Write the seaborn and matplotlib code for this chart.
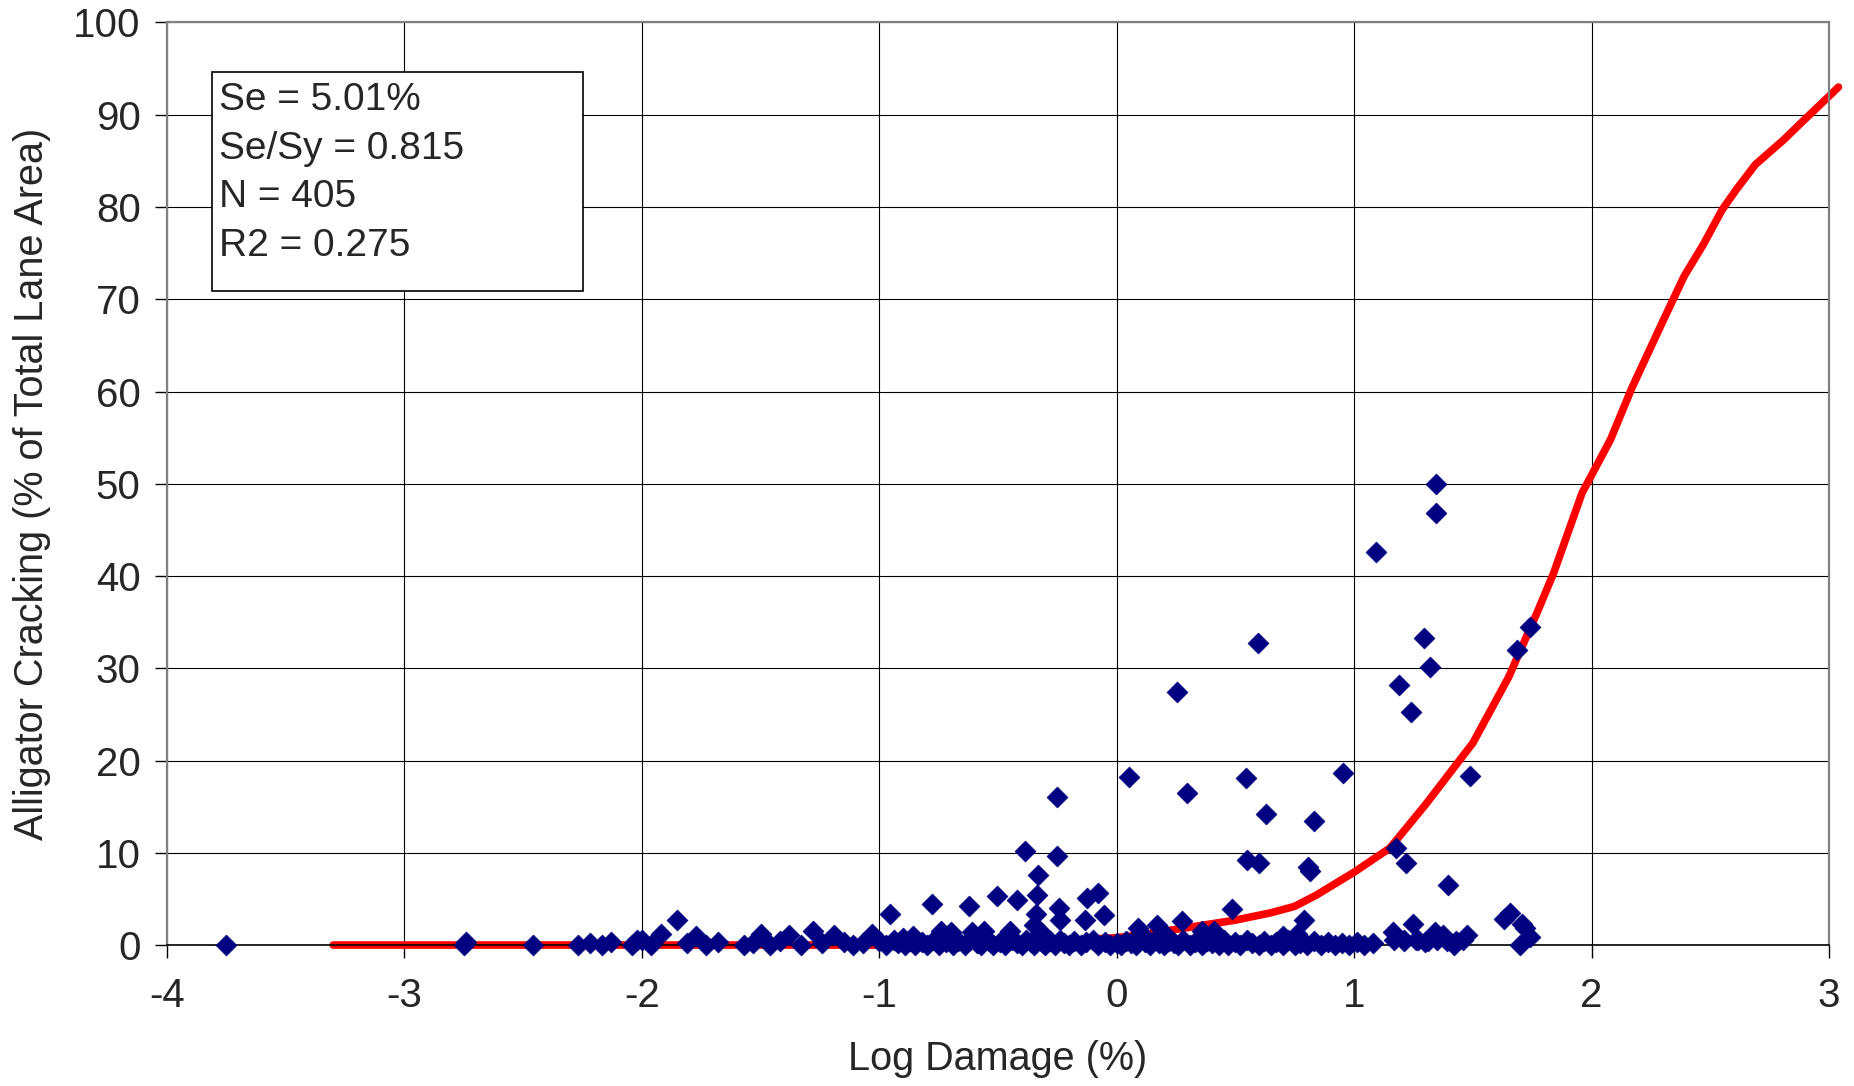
import numpy as np
import pandas as pd
import matplotlib
matplotlib.use('Agg')
import matplotlib.pyplot as plt
from matplotlib.patches import Rectangle
import seaborn as sns

# points sitting on (or just above) the zero line
zero_x = [-3.75, -2.75, -2.74, -2.46, -2.27, -2.22, -2.17, -2.13, -2.04, -2.00, -1.96,
          -1.81, -1.73, -1.68, -1.57, -1.53, -1.46, -1.42, -1.33, -1.24, -1.15, -1.11,
          -1.07, -1.00, -0.97, -0.94, -0.92, -0.89, -0.87, -0.85, -0.82, -0.80, -0.77,
          -0.75, -0.72, -0.69, -0.67, -0.64, -0.62, -0.59, -0.57, -0.54, -0.52, -0.49,
          -0.47, -0.44, -0.42, -0.40, -0.38, -0.36, -0.35, -0.33, -0.31, -0.30, -0.28,
          -0.26, -0.24, -0.22, -0.20, -0.18, -0.15, -0.13, -0.10, -0.08, -0.05, -0.03,
          0.00, 0.02, 0.04, 0.06, 0.08, 0.10, 0.12, 0.14, 0.16, 0.18, 0.20, 0.22, 0.24,
          0.26, 0.28, 0.31, 0.33, 0.36, 0.38, 0.40, 0.43, 0.45, 0.47, 0.50, 0.52, 0.55,
          0.57, 0.60, 0.62, 0.65, 0.67, 0.70, 0.72, 0.75, 0.77, 0.80, 0.83, 0.86, 0.89,
          0.92, 0.95, 0.98, 1.01, 1.04, 1.08, 1.17, 1.21, 1.26, 1.30, 1.35, 1.39, 1.42,
          1.46, 1.70]
zero_y = [0.0, 0.0, 0.3, 0.0, 0.0, 0.2, 0.0, 0.3, 0.0, 0.5, 0.0,
          0.2, 0.0, 0.3, 0.0, 0.2, 0.0, 0.4, 0.0, 0.2, 0.3, 0.0,
          0.2, 0.4, 0.0, 0.5, 0.2, 0.0, 0.4, 0.0, 0.3, 0.0, 0.5,
          0.0, 0.3, 0.0, 0.4, 0.0, 0.5, 0.2, 0.0, 0.4, 0.0, 0.3,
          0.0, 0.5, 0.2, 0.0, 0.6, 0.3, 0.0, 0.5, 0.2, 0.0, 0.4,
          0.0, 0.6, 0.2, 0.0, 0.4, 0.0, 0.3, 0.5, 0.0, 0.3, 0.0,
          0.2, 0.0, 0.4, 0.2, 0.0, 0.5, 0.3, 0.0, 0.6, 0.2, 0.0, 0.4, 0.2,
          0.0, 0.5, 0.0, 0.3, 0.0, 0.4, 0.2, 0.0, 0.5, 0.0, 0.3, 0.0, 0.5,
          0.2, 0.0, 0.4, 0.0, 0.3, 0.0, 0.5, 0.0, 0.2, 0.0, 0.4, 0.0, 0.3,
          0.0, 0.2, 0.0, 0.3, 0.0, 0.2, 0.5, 0.4, 0.6, 0.3, 0.5, 0.4, 0.0,
          0.6, 0.0]

# low points just above the band
low_x = [-2.02, -1.92, -1.85, -1.77, -1.50, -1.38, -1.28, -1.19, -1.03, -0.955, -0.90,
         -0.86, -0.74, -0.70, -0.61, -0.56, -0.45, -0.35, -0.31, -0.34, -0.238, -0.133,
         -0.053, 0.09, 0.168, 0.21, 0.12, 0.273, 0.36, 0.41, 0.70, 0.76, 0.787, 1.165,
         1.25, 1.34, 1.376, 1.474, 1.21, 1.27, 1.31, 1.43, 1.63, 1.656, 1.705, 1.72,
         1.74]
low_y = [0.6, 1.2, 2.7, 1.0, 1.2, 1.1, 1.5, 1.1, 1.2, 3.4, 0.8,
         1.0, 1.5, 1.4, 1.4, 1.5, 1.5, 2.2, 1.2, 3.4, 2.7, 2.7,
         3.3, 1.8, 2.2, 1.0, 0.9, 2.6, 1.5, 1.5, 1.0, 1.2, 2.7, 1.4,
         2.3, 1.4, 1.1, 1.1, 0.5, 0.5, 0.4, 0.4, 2.8, 3.5, 2.3, 1.8,
         0.9]

# scattered points higher up
high_x = [-0.778, -0.624, -0.505, -0.42, -0.385, -0.33, -0.337, -0.245, -0.25, -0.25,
          -0.126, -0.077, 0.05, 0.256, 0.294, 0.484, 0.544, 0.547, 0.598, 0.596, 0.628,
          0.805, 0.815, 0.833, 0.954, 1.09, 1.178, 1.218, 1.188, 1.239, 1.296, 1.32,
          1.344, 1.344, 1.396, 1.489, 1.684, 1.74]
high_y = [4.5, 4.2, 5.3, 4.9, 10.2, 7.6, 5.4, 4.0, 9.7, 16.0,
          5.1, 5.6, 18.2, 27.4, 16.5, 3.9, 18.1, 9.2, 8.9, 32.7, 14.2,
          8.5, 8.0, 13.4, 18.6, 42.6, 10.5, 8.9, 28.2, 25.3, 33.3, 30.1,
          50.0, 46.8, 6.5, 18.3, 32.0, 34.5]

# fitted transfer function (red line)
curve_x = [-3.3, -2.0, -1.0, -0.5, -0.25, 0.0, 0.1, 0.25, 0.4, 0.5, 0.65, 0.75, 0.84,
           1.0, 1.15, 1.3, 1.5, 1.65, 1.77, 1.84, 1.96, 2.08, 2.17, 2.3, 2.39, 2.47,
           2.55, 2.61, 2.69, 2.81, 2.89, 3.0, 3.04]
curve_y = [0.0, 0.0, 0.0, 0.2, 0.4, 0.8, 1.1, 1.7, 2.3, 2.7, 3.5, 4.2, 5.4,
           7.9, 10.5, 15.2, 21.9, 29.0, 36.0, 40.3, 49.0, 54.8, 60.4, 67.6, 72.5, 75.9,
           79.7, 81.9, 84.6, 87.3, 89.3, 92.0, 93.0]

stats_labels = ['Se = 5.01%', 'Se/Sy = 0.815', 'N = 405', 'R2 = 0.275']
stats_y = [91.6, 86.3, 81.1, 75.8]

x_ticks = [-4, -3, -2, -1, 0, 1, 2, 3]
y_ticks = [0, 10, 20, 30, 40, 50, 60, 70, 80, 90, 100]

sns.set_theme(style='white')
plt.rcParams['font.family'] = ['Liberation Sans', 'DejaVu Sans']
plt.rcParams['axes.unicode_minus'] = False

pts = pd.DataFrame({
    'log_damage': zero_x + low_x + high_x,
    'cracking': zero_y + low_y + high_y,
})
fit = pd.DataFrame({'log_damage': curve_x, 'cracking': curve_y})

fig = plt.figure(figsize=(18.54, 10.86), dpi=100)
ax = fig.add_axes([0.0901, 0.1298, 0.8964, 0.8495])

ax.set_xlim(-4, 3)
ax.set_ylim(0, 100)
ax.set_xticks(x_ticks)
ax.set_yticks(y_ticks)
ax.grid(True, color='black', linewidth=0.8, zorder=0)
ax.set_axisbelow(True)

sns.lineplot(data=fit, x='log_damage', y='cracking', ax=ax, color='#ff0000',
             linewidth=5.5, sort=False, estimator=None, zorder=2, clip_on=False)
sns.scatterplot(data=pts, x='log_damage', y='cracking', ax=ax, marker='D', s=115,
                color='#000080', edgecolor='#000080', linewidth=0.4, zorder=3,
                clip_on=False)

# stats box
ax.add_patch(Rectangle((-3.81, 70.9), 1.56, 23.7, facecolor='white',
                       edgecolor='black', linewidth=1.2, zorder=4))
for label, yy in zip(stats_labels, stats_y):
    ax.text(-3.78, yy, label, fontsize=28, va='center', ha='left', zorder=5)

for side in ['top', 'right', 'left']:
    ax.spines[side].set_color('#808080')
    ax.spines[side].set_linewidth(1.6)
ax.spines['bottom'].set_color('black')
ax.spines['bottom'].set_linewidth(1.2)

ax.tick_params(axis='both', which='major', labelsize=29, direction='out',
               length=9, width=1, color='black', left=True, bottom=True)
ax.tick_params(axis='x', pad=14)
ax.tick_params(axis='y', pad=10)

ax.set_xlabel('Log Damage (%)', fontsize=28.5)
ax.set_ylabel('Alligator Cracking (% of Total Lane Area)', fontsize=28.5)
ax.xaxis.set_label_coords(0.5, -0.124)
ax.xaxis.label.set_va('center')
ax.yaxis.set_label_coords(-0.081, 0.5)
ax.yaxis.label.set_va('center')

fig.savefig('out.png', dpi=100)
plt.close(fig)
